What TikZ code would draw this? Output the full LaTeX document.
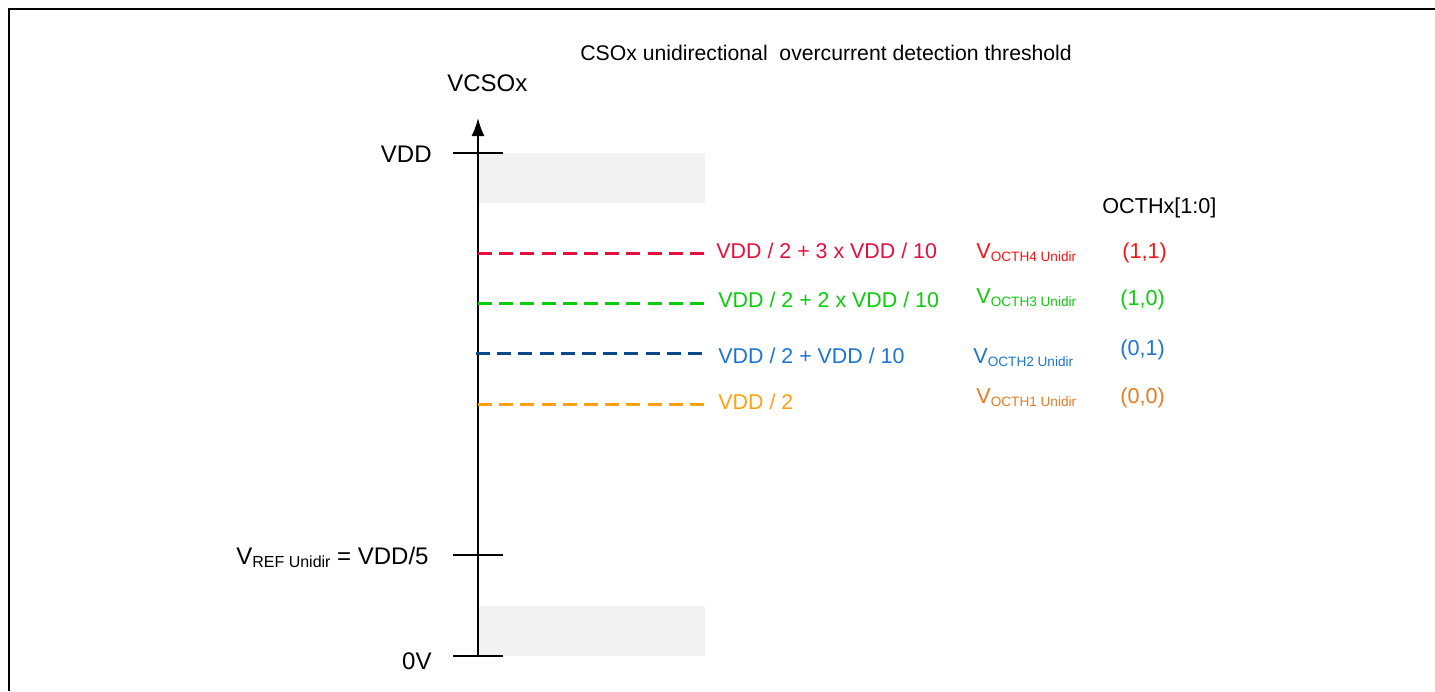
\documentclass[tikz,border=0pt]{standalone}
\usepackage{fontspec}
\setmainfont{Liberation Sans}
\usetikzlibrary{arrows.meta,calc,positioning}
\definecolor{ocgray}{HTML}{F2F2F2}
\definecolor{occrimson}{HTML}{E2103E}
\definecolor{ocred}{HTML}{FA1212}
\definecolor{ocgreen}{HTML}{0CCB0C}
\definecolor{ocnavy}{HTML}{0B4A8A}
\definecolor{ocblue}{HTML}{1B74D0}
\definecolor{ocamber}{HTML}{FFA012}
\definecolor{ocorange}{HTML}{E87A22}
\newcommand{\subtag}[1]{\raisebox{-1.6pt}{\fontsize{6.8}{7}\selectfont #1}}
\newcommand{\bigsubtag}[1]{\raisebox{-1.8pt}{\fontsize{8}{9}\selectfont #1}}
\tikzset{
  axisline/.style={draw=black, line width=1pt},
  axisArrow/.style={axisline, -{Latex[length=9pt, width=6.5pt]}},
  levelmark/.style={axisline},
  levelbase/.style={inner sep=0pt, anchor=base east, font=\fontsize{12}{14}\selectfont},
  thrline/.style={dashed, dash pattern=on 7pt off 3.6pt, line width=1.5pt},
  thrlabel/.style={inner sep=0pt, anchor=base west, font=\fontsize{10.7}{13}\selectfont},
  codelabel/.style={inner sep=0pt, anchor=base west, font=\fontsize{10.8}{13}\selectfont}
}
\begin{document}
\begin{tikzpicture}[
  x=0.5pt, y=-0.5pt,
  bandbox/.style={fill=ocgray},
  frameline/.style={draw=black, line width=0.7pt}
]
  \useasboundingbox (0,0) rectangle (1435,691);
  \draw[frameline] (9,691) -- (9,9) -- (1435,9);

  \fill[bandbox] (478,153) rectangle (705,203);
  \fill[bandbox] (478,606) rectangle (705,656);

  \node[inner sep=0pt, anchor=base west, font=\fontsize{10.6}{12}\selectfont] (title) at (580,60) {CSOx unidirectional\ \ overcurrent detection threshold};
  \node[levelbase, anchor=base west] (vcso) at (447,91) {VCSOx};

  \coordinate (axisbot) at (478,656);
  \coordinate (axistop) at (478,118);
  \draw[axisArrow] (axisbot) -- (axistop);

  \coordinate (vddL) at (453,153);
  \coordinate (vddR) at (503,153);
  \coordinate (vrefL) at (453,555);
  \coordinate (vrefR) at (503,555);
  \coordinate (zeroL) at (453,656);
  \coordinate (zeroR) at (503,656);
  \draw[levelmark] (vddL) -- (vddR);
  \draw[levelmark] (vrefL) -- (vrefR);
  \draw[levelmark] (zeroL) -- (zeroR);

  \node[levelbase] (vdd) at (432,162) {VDD};
  \node[levelbase] (vref) at (429,564) {V\bigsubtag{REF Unidir} = VDD/5};
  \node[levelbase] (zero) at (432,669) {0V};

  \coordinate (th4a) at (478,253);
  \coordinate (th4b) at (705,253);
  \coordinate (th3a) at (478,303);
  \coordinate (th3b) at (705,303);
  \coordinate (th2a) at (476,353);
  \coordinate (th2b) at (702,353);
  \coordinate (th1a) at (478,404);
  \coordinate (th1b) at (705,404);
  \draw[thrline, draw=occrimson] (th4a) -- (th4b);
  \draw[thrline, draw=ocgreen] (th3a) -- (th3b);
  \draw[thrline, draw=ocnavy] (th2a) -- (th2b);
  \draw[thrline, draw=ocamber] (th1a) -- (th1b);

  \node[thrlabel, text=occrimson] (eq4) at (716,258) {VDD / 2 + 3 x VDD / 10};
  \node[thrlabel, text=ocgreen] (eq3) at (718,307) {VDD / 2 + 2 x VDD / 10};
  \node[thrlabel, text=ocblue] (eq2) at (718,363) {VDD / 2 + VDD / 10};
  \node[thrlabel, text=ocamber] (eq1) at (718,409) {VDD / 2};

  \node[codelabel, text=ocred] (v4) at (976,258) {V\subtag{OCTH4 Unidir}};
  \node[codelabel, text=ocgreen] (v3) at (976,303) {V\subtag{OCTH3 Unidir}};
  \node[codelabel, text=ocblue] (v2) at (973,363) {V\subtag{OCTH2 Unidir}};
  \node[codelabel, text=ocorange] (v1) at (976,403) {V\subtag{OCTH1 Unidir}};

  \node[codelabel] (octh) at (1102,213) {OCTHx[1:0]};
  \node[codelabel, text=ocred] (c11) at (1122,258) {(1,1)};
  \node[codelabel, text=ocgreen] (c10) at (1120,305) {(1,0)};
  \node[codelabel, text=ocblue] (c01) at (1120,355) {(0,1)};
  \node[codelabel, text=ocorange] (c00) at (1120,403) {(0,0)};
\end{tikzpicture}
\end{document}
